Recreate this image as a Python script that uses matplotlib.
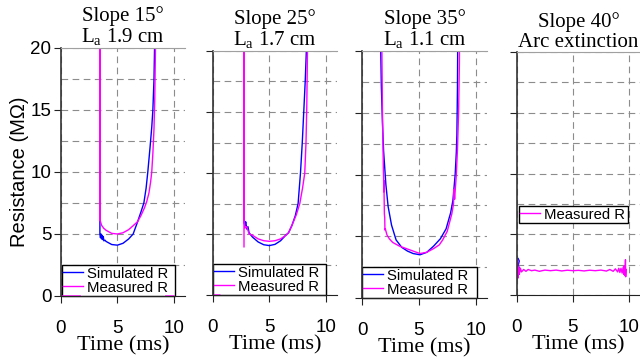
import numpy as np
import matplotlib
matplotlib.use("Agg")
import matplotlib.pyplot as plt
from matplotlib.ticker import MultipleLocator

nan = np.nan

# panel titles
titles = ["Slope 15\u00b0\nL$_{\\mathrm{a}}$ 1.9 cm",
          "Slope 25\u00b0\nL$_{\\mathrm{a}}$ 1.7 cm",
          "Slope 35\u00b0\nL$_{\\mathrm{a}}$ 1.1 cm",
          "Slope 40\u00b0\nArc extinction"]

# slope 15
sim15_t = [3.45, 3.45, 3.5, 3.55, 3.6, 3.65, 3.7, 3.75, 3.8, 3.9, 4.0, 4.5, 5.0, 5.5, 6.0,
           6.4, 6.8, 7.1, 7.35, 7.55, 7.7, 7.9, 8.05, 8.15, 8.25, 8.3, 8.35]
sim15_r = [25, 5.0, 4.7, 5.0, 4.6, 4.9, 4.55, 4.8, 4.45, 4.5, 4.4, 4.15, 4.1, 4.25, 4.6,
           5.0, 6.0, 6.8, 7.5, 8.7, 10.0, 12.0, 13.6, 15.0, 17.5, 20.0, 23.0]
meas15_t = [0, 1.7, nan, 3.45, 3.45, 3.47, 3.6, 3.8, 4.0, 4.5, 5.0, 5.5, 6.0, 6.5, 6.8,
            7.1, 7.4, 7.6, 7.8, 7.95, 8.05, 8.15, 8.25, 8.32, 8.38, 8.4, nan, 9.3, 10]
meas15_r = [0, 0, nan, 6.1, 25, 6.1, 5.7, 5.45, 5.3, 5.05, 5.0, 5.1, 5.35, 5.75, 6.0,
            6.5, 7.1, 7.6, 8.3, 9.2, 10.0, 11.5, 13.5, 16.0, 20.0, 23.0, nan, 0, 0]

# slope 25
sim25_t = [2.75, 2.75, 2.85, 2.9, 3.0, 3.1, 3.2, 3.5, 4.0, 4.5, 5.0, 5.5, 6.0, 6.4, 6.7,
           7.0, 7.3, 7.55, 7.76, 7.92, 8.05, 8.18, 8.28, 8.32]
sim25_r = [25, 6.2, 5.7, 6.0, 5.4, 5.6, 5.1, 4.75, 4.35, 4.12, 4.05, 4.15, 4.45, 4.85, 5.1,
           5.7, 6.5, 7.5, 10.0, 12.5, 15.0, 17.5, 20.0, 22.0]
meas25_t = [0, 0.6, nan, 2.75, 2.75, 2.77, 2.85, 3.0, 3.2, 3.5, 4.0, 4.5, 5.0, 5.5, 6.0,
            6.4, 6.7, 7.0, 7.4, 7.7, 7.95, 8.14, 8.25, 8.32, 8.38, 8.42]
meas25_r = [0, 0, nan, 3.95, 25, 6.0, 5.5, 5.6, 5.0, 4.9, 4.6, 4.45, 4.4, 4.45, 4.6,
            4.85, 5.1, 5.7, 6.6, 7.5, 8.8, 10.0, 12.5, 15.5, 20.0, 23.0]

# slope 35
sim35_t = [1.6, 1.65, 1.7, 1.8, 1.9, 2.1, 2.3, 2.6, 3.0, 3.5, 4.0, 4.5, 5.1, 5.7, 6.3,
           6.9, 7.4, 7.8, 8.0, 8.2, 8.3, 8.35, 8.4, 8.42, 8.45]
sim35_r = [23, 20, 17.2, 14.2, 11.9, 9.2, 7.4, 5.9, 4.7, 4.1, 3.8, 3.6, 3.5, 3.7, 4.2,
           4.8, 5.6, 6.9, 7.9, 10.0, 11.8, 13.2, 17.0, 20.0, 23.0]
meas35_t = [1.72, 1.75, 1.8, 1.85, 1.88, 1.9, 1.92, 1.93, 1.95, 1.97, 2.0, 2.02, 2.05, 2.2,
            2.4, 2.7, 3.3, 3.9, 4.5, 5.1, 5.7, 6.3, 6.8, 7.1, 7.5, 7.9, 8.05, 8.1, 8.15,
            8.3, 8.4, 8.5, 8.57, 8.6]
meas35_r = [23, 20, 15, 12, 10.5, 9.8, 8.6, 9.5, 8.0, 6.8, 6.5, 5.5, 5.6, 5.1,
            4.8, 4.5, 4.2, 4.0, 3.8, 3.6, 3.7, 4.0, 4.3, 4.7, 5.4, 6.8, 7.6, 8.8, 8.0,
            10.0, 12.0, 15.0, 19.0, 23.0]

# slope 40 (arc extinguished)
sim40_t = [0.1, 0.2, 0.1, 0.25, 0.1, 0.2, 0.1]
sim40_r = [3.0, 2.8, 2.4, 2.2, 1.9, 1.7, 2.0]
meas40_t = [0.05, 0.1, 0.15, 0.2, 0.3, 0.4, 0.6, 0.8, 1.0, 1.3, 1.6, 2.0, 2.5, 3.0, 3.5,
            4.0, 4.5, 5.0, 5.5, 6.0, 6.5, 7.0, 7.5, 8.0, 8.3, 8.6, 8.8, 9.0, 9.1, 9.2,
            9.3, 9.4, 9.5, 9.55, 9.6, 9.65, 9.7, 9.72, 9.75]
meas40_r = [2.9, 1.4, 2.3, 1.7, 2.2, 1.9, 2.1, 1.95, 2.1, 2.0, 2.05, 1.95, 2.05, 2.0, 2.05,
            1.98, 2.04, 2.0, 2.03, 1.98, 2.04, 2.0, 2.05, 1.97, 2.1, 1.95, 2.15, 1.9, 2.2,
            1.85, 2.2, 1.8, 2.3, 1.7, 2.4, 1.6, 2.9, 1.5, 2.1]

panels = [(sim15_t, sim15_r, meas15_t, meas15_r),
          (sim25_t, sim25_r, meas25_t, meas25_r),
          (sim35_t, sim35_r, meas35_t, meas35_r),
          (sim40_t, sim40_r, meas40_t, meas40_r)]

plt.rcParams['font.family'] = ['Liberation Sans', 'DejaVu Sans']
plt.rcParams['mathtext.fontset'] = 'custom'
plt.rcParams['mathtext.rm'] = 'Liberation Serif'

W, H = 640, 359
# axes boxes in pixels: left, top, right, bottom
boxes = [(61, 48, 185, 296), (213, 51, 337, 295), (362, 51, 487, 298), (517, 52, 640, 295)]
# legend boxes in pixels: left, bottom, right
leg_boxes = [(62, 296, 175), (213, 295, 326), (362, 298, 477), (519, 223, 628)]

fig = plt.figure(figsize=(6.4, 3.59), dpi=100)
serif = ['Liberation Serif', 'DejaVu Serif']

for i, (st, sr, mt, mr) in enumerate(panels):
    l, t, r, b = boxes[i]
    ax = fig.add_axes([l / W, (H - b) / H, (r - l) / W, (b - t) / H])
    if i < 3:
        ax.plot(st, sr, color='#0000ff', lw=1.0, label='Simulated R')
    else:
        ax.plot(st, sr, color='#0000ff', lw=1.0)
    ax.plot(mt, mr, color='#ff00ff', lw=1.0, label='Measured R')
    ax.set_xlim(0, 11)
    ax.set_ylim(0, 20)
    ax.set_xticks([0, 5, 10])
    ax.set_yticks([0, 5, 10, 15, 20])
    ax.yaxis.set_minor_locator(MultipleLocator(2.5))
    ax.tick_params(which='major', direction='out', length=5, width=0.8,
                   labelsize=13.5, color='#222222')
    ax.tick_params(axis='x', pad=12)
    ax.tick_params(axis='y', pad=2)
    ax.tick_params(which='minor', length=0)
    ax.grid(True, which='major', axis='x', color='#8c8c8c', lw=0.8, linestyle=(0, (6, 4)))
    ax.grid(True, which='both', axis='y', color='#8c8c8c', lw=0.8, linestyle=(0, (6, 4)))
    ax.set_axisbelow(True)
    ax.spines['right'].set_visible(False)
    ax.spines['top'].set_color('#a0a0a0')
    ax.spines['left'].set_color('#333333')
    ax.spines['left'].set_linewidth(1.2)
    ax.spines['bottom'].set_color('#222222')
    if i > 0:
        ax.tick_params(axis='y', labelleft=False)
    else:
        ax.set_ylabel('Resistance (M\u03a9)', fontsize=14.5, labelpad=1)
    ax.set_xlabel('Time (ms)', fontsize=16, family=serif, labelpad=0)
    ax.set_title(titles[i], fontsize=15, family=serif, pad=3, linespacing=1.05)

    lx0, lby, lx1 = leg_boxes[i]
    bx = (lx0 - l) / (r - l)
    by = (b - lby) / (b - t)
    bw = (lx1 - lx0) / (r - l)
    leg = ax.legend(loc='lower left', bbox_to_anchor=(bx, by, bw, 0.1), mode='expand',
                    borderaxespad=0, fontsize=10.7, frameon=True, fancybox=False,
                    edgecolor='black', framealpha=1, borderpad=0.1, labelspacing=0.0,
                    handlelength=1.3, handletextpad=0.3)
    leg.get_frame().set_linewidth(1.0)
    leg.set_zorder(1.5)

fig.savefig('out.png', dpi=100)
